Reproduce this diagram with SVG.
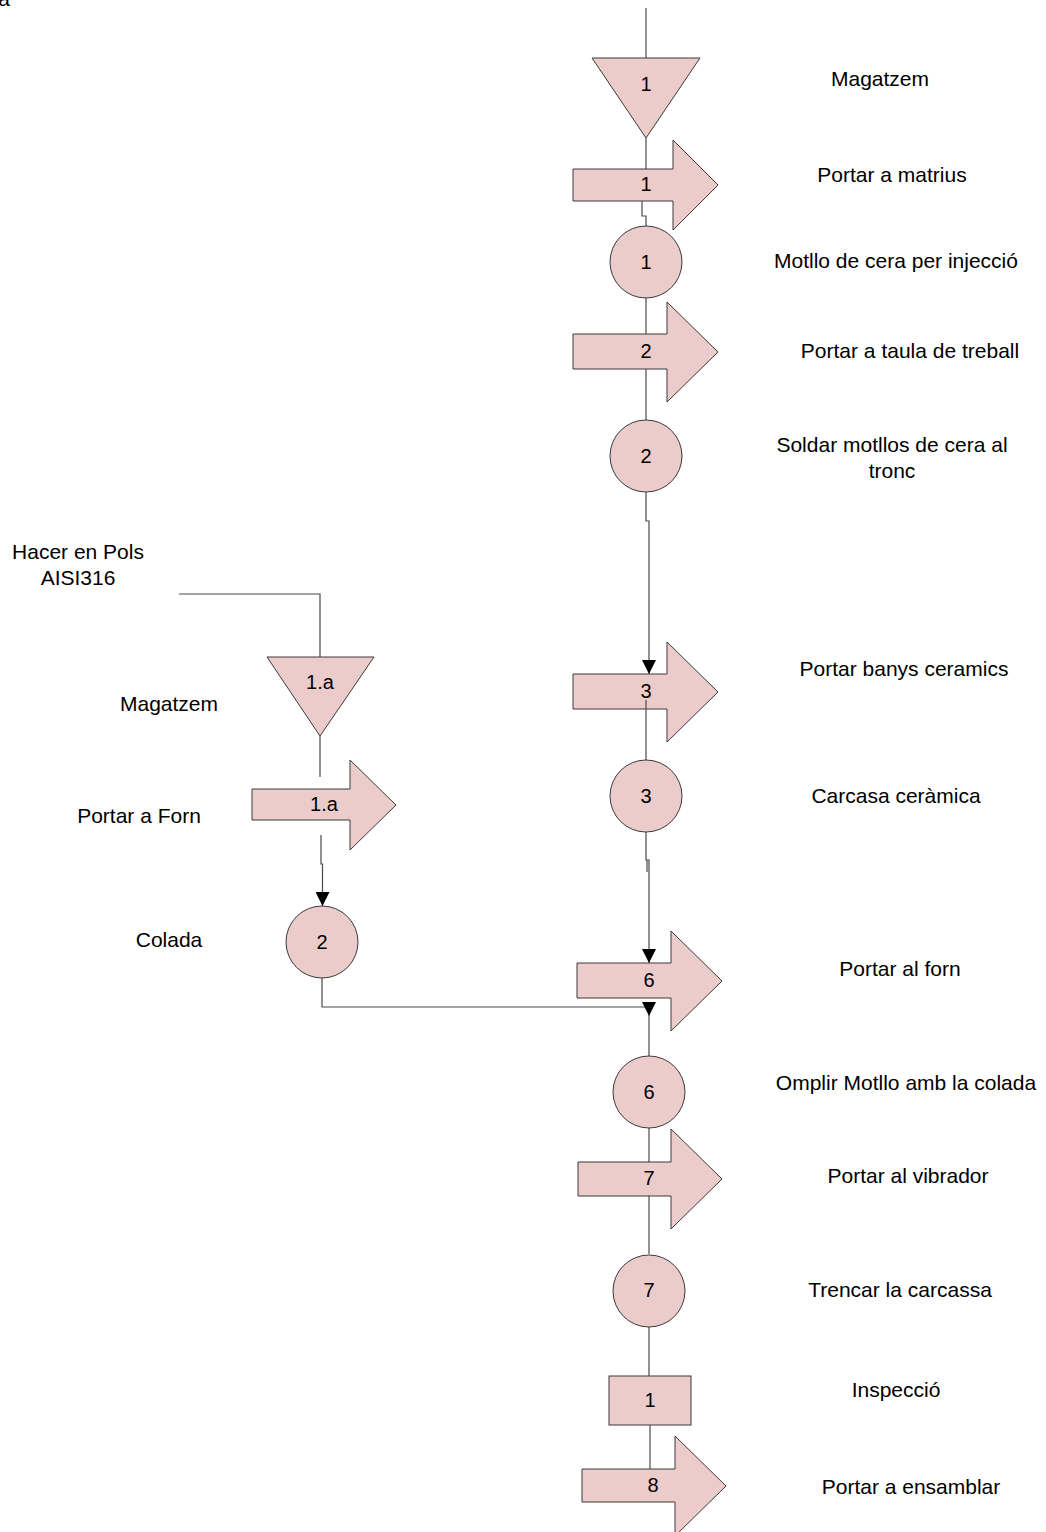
<svg xmlns="http://www.w3.org/2000/svg" width="1046" height="1532" viewBox="0 0 1046 1532">
  <style>
    .shape { fill: #ecccca; stroke: #3a3a3a; stroke-width: 1; }
    .conn { fill: none; stroke: #4a4a4a; stroke-width: 1.2; }
    .num { font-family: "Liberation Sans", Arial, sans-serif; font-size: 20px; fill: #000; text-anchor: middle; }
    .lbl { font-family: "Liberation Sans", Arial, sans-serif; font-size: 21px; fill: #000; text-anchor: middle; }
  </style>
  <defs>
    <marker id="head" viewBox="0 0 14 14" refX="14" refY="7" markerWidth="14" markerHeight="14" markerUnits="userSpaceOnUse" orient="auto">
      <path d="M0,0 L14,7 L0,14 Z" fill="#000"/>
    </marker>
  </defs>

  <rect width="1046" height="1532" fill="#ffffff"/>

  <!-- stray caption fragment at the page edge -->
  <text class="lbl" x="4" y="6">a</text>

  <!-- connectors -->
  <g id="connectors">
    <path class="conn" d="M646,8 V58"/>
    <path class="conn" d="M646,138 V169"/>
    <path class="conn" d="M642,201 V216 H646 V226"/>
    <path class="conn" d="M646,298 V334"/>
    <path class="conn" d="M646,369 V420"/>
    <path class="conn" d="M646,492 V521 H649 V674" marker-end="url(#head)"/>
    <path class="conn" d="M646,832 V860 H649 V963" marker-end="url(#head)"/>
    <path class="conn" d="M647,860 V872"/>
    <path class="conn" d="M179,594 H320 V657"/>
    <path class="conn" d="M320,736 V777"/>
    <path class="conn" d="M321,835 V864 H322.5 V906" marker-end="url(#head)"/>
    <path class="conn" d="M322,978 V1007 H649 V1016" marker-end="url(#head)"/>
    <path class="conn" d="M649,1016 V1056"/>
    <path class="conn" d="M649,1128 V1162"/>
    <path class="conn" d="M649,1196 V1254"/>
    <path class="conn" d="M649,1327 V1376"/>
    <path class="conn" d="M650,1425 V1469"/>
  </g>

  <!-- main line -->
  <g id="store-1">
    <path class="shape" d="M592,58 H700 L646,138 Z"/>
    <text class="num" x="646" y="91">1</text>
  </g>
  <g id="transport-1">
    <path class="shape" d="M573,169 H673 V140 L718,185 L673,230 V201 H573 Z"/>
    <text class="num" x="646" y="191">1</text>
  </g>
  <g id="op-1">
    <circle class="shape" cx="646" cy="262" r="36"/>
    <text class="num" x="646" y="269">1</text>
  </g>
  <g id="transport-2">
    <path class="shape" d="M573,334 H667 V302 L718,352 L667,402 V369 H573 Z"/>
    <text class="num" x="646" y="358">2</text>
  </g>
  <g id="op-2">
    <circle class="shape" cx="646" cy="456" r="36"/>
    <text class="num" x="646" y="463">2</text>
  </g>
  <g id="transport-3">
    <path class="shape" d="M573,674 H667 V642 L718,692 L667,742 V709 H573 Z"/>
    <text class="num" x="646" y="698">3</text>
  </g>
  <path class="conn" d="M646,700 V760"/>
  <g id="op-3">
    <circle class="shape" cx="646" cy="796" r="36"/>
    <text class="num" x="646" y="803">3</text>
  </g>
  <g id="transport-6">
    <path class="shape" d="M577,963 H671 V931 L722,981 L671,1031 V998 H577 Z"/>
    <text class="num" x="649" y="987">6</text>
  </g>
  <g id="op-6">
    <circle class="shape" cx="649" cy="1092" r="36"/>
    <text class="num" x="649" y="1099">6</text>
  </g>
  <g id="transport-7">
    <path class="shape" d="M578,1162 H671 V1129 L722,1179 L671,1229 V1196 H578 Z"/>
    <text class="num" x="649" y="1185">7</text>
  </g>
  <g id="op-7">
    <circle class="shape" cx="649" cy="1291" r="36"/>
    <text class="num" x="649" y="1297">7</text>
  </g>
  <g id="inspection-1">
    <rect class="shape" x="609" y="1376" width="82" height="49"/>
    <text class="num" x="650" y="1407">1</text>
  </g>
  <g id="transport-8">
    <path class="shape" d="M582,1469 H675 V1436 L726,1486 L675,1536 V1502 H582 Z"/>
    <text class="num" x="653" y="1492">8</text>
  </g>

  <!-- side branch -->
  <g id="store-1a">
    <path class="shape" d="M267,657 H374 L320,736 Z"/>
    <text class="num" x="320" y="689">1.a</text>
  </g>
  <g id="transport-1a">
    <path class="shape" d="M252,789 H350 V760 L396,805 L350,850 V820 H252 Z"/>
    <text class="num" x="324" y="811">1.a</text>
  </g>
  <g id="op-2a">
    <circle class="shape" cx="322" cy="942" r="36"/>
    <text class="num" x="322" y="949">2</text>
  </g>

  <!-- step descriptions -->
  <g id="labels">
    <text class="lbl" x="880" y="86">Magatzem</text>
    <text class="lbl" x="892" y="182">Portar a matrius</text>
    <text class="lbl" x="896" y="268">Motllo de cera per injecció</text>
    <text class="lbl" x="910" y="358">Portar a taula de treball</text>
    <text class="lbl" x="892" y="452">Soldar motllos de cera al</text>
    <text class="lbl" x="892" y="478">tronc</text>
    <text class="lbl" x="904" y="676">Portar banys ceramics</text>
    <text class="lbl" x="896" y="803">Carcasa ceràmica</text>
    <text class="lbl" x="900" y="976">Portar al forn</text>
    <text class="lbl" x="906" y="1090">Omplir Motllo amb la colada</text>
    <text class="lbl" x="908" y="1183">Portar al vibrador</text>
    <text class="lbl" x="900" y="1297">Trencar la carcassa</text>
    <text class="lbl" x="896" y="1397">Inspecció</text>
    <text class="lbl" x="911" y="1494">Portar a ensamblar</text>
    <text class="lbl" x="78" y="559">Hacer en Pols</text>
    <text class="lbl" x="78" y="585">AISI316</text>
    <text class="lbl" x="169" y="711">Magatzem</text>
    <text class="lbl" x="139" y="823">Portar a Forn</text>
    <text class="lbl" x="169" y="947">Colada</text>
  </g>
</svg>
